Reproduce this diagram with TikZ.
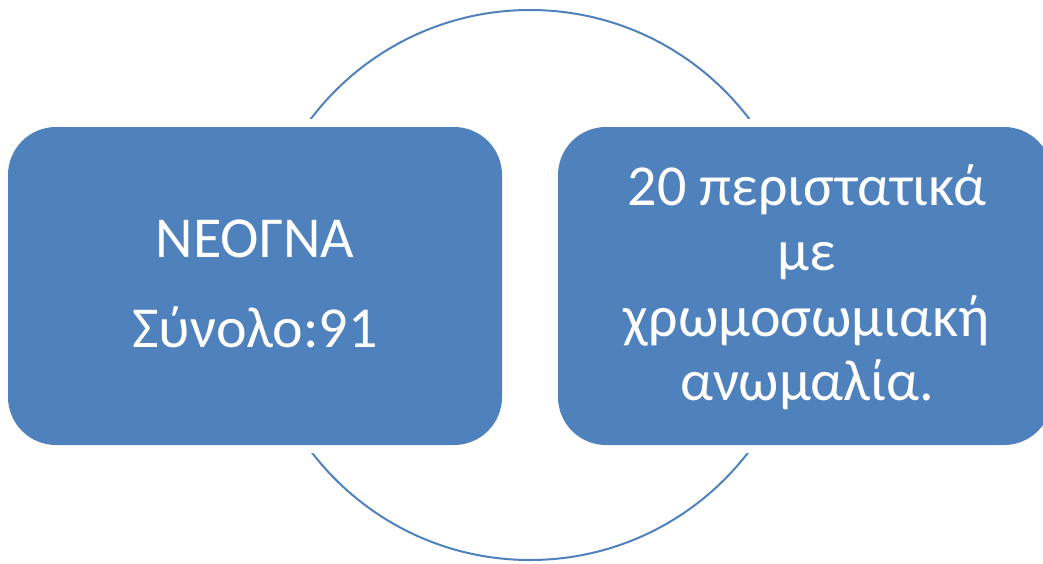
\documentclass[tikz,border=0pt]{standalone}
\usepackage{fontspec}
\setmainfont{Carlito}
\definecolor{oblue}{HTML}{4F81BD}
\begin{document}
\begin{tikzpicture}[x=1pt,y=-1pt,
  box/.style={fill=oblue,draw=none,rounded corners=48pt},
  halo/.style={fill=white,draw=none,rounded corners=56pt},
  txt/.style={text=white,anchor=base,inner sep=0pt,font=\fontsize{58}{60}\selectfont}]
\useasboundingbox (0,0) rectangle (1043,563);
\begin{scope}
\clip (0,0) rectangle (1043,563);
\draw[oblue,line width=2pt] (530,285) circle[radius=275];
\fill[halo] (0,119) rectangle (510,453);
\fill[halo] (550,119) rectangle (1060,453);
\fill[box] (8,127) rectangle (502,445);
\fill[box] (558,127) rectangle (1052,445);
\end{scope}
\node[txt] (l1) at (255,257) {ΝΕΟΓΝΑ};
\node[txt] (l2) at (255,347) {Σύνολο:91};
\node[txt] (r1) at (807,205) {20 περιστατικά};
\node[txt] (r2) at (807,270) {με};
\node[txt] (r3) at (807,336) {χρωμοσωμιακή};
\node[txt] (r4) at (807,400) {ανωμαλία.};
\end{tikzpicture}
\end{document}
